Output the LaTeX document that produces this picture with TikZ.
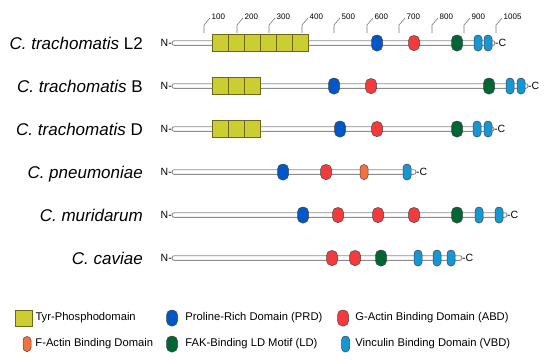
\documentclass[tikz,border=0pt]{standalone}
\usepackage{fontspec}
\setmainfont{Liberation Sans}
\usepackage{xcolor}
\definecolor{tyryellow}{RGB}{204,204,51}
\definecolor{tyrborder}{RGB}{105,105,25}
\definecolor{prdblue}{RGB}{0,88,200}
\definecolor{abdred}{RGB}{245,58,62}
\definecolor{fabdorange}{RGB}{245,112,62}
\definecolor{ldgreen}{RGB}{0,102,52}
\definecolor{vbdblue}{RGB}{22,150,210}
\definecolor{domgray}{RGB}{70,70,70}
\definecolor{bargray}{RGB}{140,140,140}
\usetikzlibrary{positioning, calc}
\tikzset{
  strain/.style={font=\fontsize{17}{20}\selectfont, anchor=base east, inner sep=0pt},
  term/.style={font=\fontsize{10.5}{12}\selectfont, inner sep=0pt},
  bar/.style={draw=bargray, fill=white, line width=0.9pt, rounded corners=2.2pt},
  tyr/.style={draw=tyrborder, fill=tyryellow, line width=0.6pt, inner sep=0pt,
              minimum width=16pt, minimum height=17pt, anchor=west},
  dom/.style={draw=domgray, line width=0.5pt, inner sep=0pt,
              minimum width=11pt, minimum height=16pt, rounded corners=5pt},
  slim/.style={dom, minimum width=8pt, rounded corners=3.8pt},
  prd/.style={dom, fill=prdblue},
  abd/.style={dom, fill=abdred, minimum height=15pt},
  ld/.style={dom, fill=ldgreen},
  vbd/.style={slim, fill=vbdblue},
  fab/.style={slim, fill=fabdorange, minimum height=15pt},
  ruler/.style={draw=bargray!85!black, line width=0.6pt},
  ticklabel/.style={font=\fontsize{8}{9}\selectfont, anchor=base west, inner sep=0pt},
  legend/.style={font=\fontsize{11.2}{13}\selectfont, inner sep=0pt, text height=8pt, text depth=2.3pt}
}
\begin{document}
\begin{tikzpicture}[x=1pt, y=-1pt]
      \useasboundingbox (0,0) rectangle (550,360);
      % Residue scale on top
      \foreach \x/\lab in {204/100, 237/200, 269/300, 302/400, 334/500,
                           367/600, 399/700, 432/800, 464/900, 496/1005} {
        \node[ticklabel] (tk\lab) at (\x+7.5,19.5) {\lab};
        \draw[ruler] (\x,33) -- (\x,25) -- (\x+6,18);
      }
      % C. trachomatis L2
      \node[strain] (l2) at (143,49) {\textit{C. trachomatis} L2};
      \coordinate (l2n) at (172,43);
      \coordinate (l2c) at (495,43);
      \node[term, anchor=east] (l2nt) at (l2n) {N-};
      \node[term, anchor=west] (l2ct) at (l2c) {-C};
      \draw[bar] ($(l2n)+(0,-2.3)$) rectangle ($(l2c)+(0,2.3)$);
      \foreach \i in {0,...,5} \node[tyr] (l2t\i) at (212+16*\i,43) {};
      \node[prd] (l2p) at (377,43) {};
      \node[abd] (l2a) at (414,43) {};
      \node[ld]  (l2l) at (457,43) {};
      \foreach \x in {478,488} \node[vbd] (l2v\x) at (\x,43) {};
      % C. trachomatis B
      \node[strain] (b) at (143,92) {\textit{C. trachomatis} B};
      \coordinate (bn) at (172,86);
      \coordinate (bc) at (528,86);
      \node[term, anchor=east] (bnt) at (bn) {N-};
      \node[term, anchor=west] (bct) at (bc) {-C};
      \draw[bar] ($(bn)+(0,-2.3)$) rectangle ($(bc)+(0,2.3)$);
      \foreach \i in {0,...,2} \node[tyr] (bt\i) at (212+16*\i,86) {};
      \node[prd] (bp) at (334,86) {};
      \node[abd] (ba) at (371,86) {};
      \node[ld]  (bl) at (489,86) {};
      \foreach \x in {510,521} \node[vbd] (bv\x) at (\x,86) {};
      % C. trachomatis D
      \node[strain] (d) at (143,135) {\textit{C. trachomatis} D};
      \coordinate (dn) at (172,129);
      \coordinate (dc) at (494,129);
      \node[term, anchor=east] (dnt) at (dn) {N-};
      \node[term, anchor=west] (dct) at (dc) {-C};
      \draw[bar] ($(dn)+(0,-2.3)$) rectangle ($(dc)+(0,2.3)$);
      \foreach \i in {0,...,2} \node[tyr] (dt\i) at (212+16*\i,129) {};
      \node[prd] (dp) at (340,129) {};
      \node[abd] (da) at (377,129) {};
      \node[ld]  (dl) at (457,129) {};
      \foreach \x in {477,488} \node[vbd] (dv\x) at (\x,129) {};
      % C. pneumoniae
      \node[strain] (pn) at (143,178) {\textit{C. pneumoniae}};
      \coordinate (pnn) at (172,172);
      \coordinate (pnc) at (416,172);
      \node[term, anchor=east] (pnnt) at (pnn) {N-};
      \node[term, anchor=west] (pnct) at (pnc) {-C};
      \draw[bar] ($(pnn)+(0,-2.3)$) rectangle ($(pnc)+(0,2.3)$);
      \node[prd] (pnp) at (283,172) {};
      \node[abd] (pna) at (326,172) {};
      \node[fab] (pnf) at (364,172) {};
      \node[vbd] (pnv) at (407,172) {};
      % C. muridarum
      \node[strain] (mu) at (143,221) {\textit{C. muridarum}};
      \coordinate (mun) at (172,215);
      \coordinate (muc) at (507,215);
      \node[term, anchor=east] (munt) at (mun) {N-};
      \node[term, anchor=west] (muct) at (muc) {-C};
      \draw[bar] ($(mun)+(0,-2.3)$) rectangle ($(muc)+(0,2.3)$);
      \node[prd] (mup) at (303,215) {};
      \foreach \x in {338,378,414} \node[abd] (mua\x) at (\x,215) {};
      \node[ld]  (mul) at (457,215) {};
      \foreach \x in {479,499} \node[vbd] (muv\x) at (\x,215) {};
      % C. caviae
      \node[strain] (ca) at (143,264) {\textit{C. caviae}};
      \coordinate (can) at (172,258);
      \coordinate (cac) at (462,258);
      \node[term, anchor=east] (cant) at (can) {N-};
      \node[term, anchor=west] (cact) at (cac) {-C};
      \draw[bar] ($(can)+(0,-2.3)$) rectangle ($(cac)+(0,2.3)$);
      \foreach \x in {332,355} \node[abd] (caa\x) at (\x,258) {};
      \node[ld]  (cal) at (381,258) {};
      \foreach \x in {418,437,451} \node[vbd] (cav\x) at (\x,258) {};
      % Legend
      \node[tyr, anchor=center, minimum width=17pt, minimum height=16pt] (keytyr) at (23.5,318) {};
      \node[legend, right=3pt of keytyr] (txttyr) {Tyr-Phosphodomain};
      \node[prd] (keyprd) at (172,318) {};
      \node[legend, right=7.5pt of keyprd] (txtprd) {Proline-Rich Domain (PRD)};
      \node[abd, minimum height=16pt] (keyabd) at (343,318) {};
      \node[legend, right=6.5pt of keyabd] (txtabd) {G-Actin Binding Domain (ABD)};
      \node[fab] (keyfab) at (27,344) {};
      \node[legend, right=4pt of keyfab] (txtfab) {F-Actin Binding Domain};
      \node[ld] (keyld) at (172,344) {};
      \node[legend, right=7.5pt of keyld] (txtld) {FAK-Binding LD Motif (LD)};
      \node[vbd] (keyvbd) at (345.5,344) {};
      \node[legend, right=5.5pt of keyvbd] (txtvbd) {Vinculin Binding Domain (VBD)};
\end{tikzpicture}
\end{document}
